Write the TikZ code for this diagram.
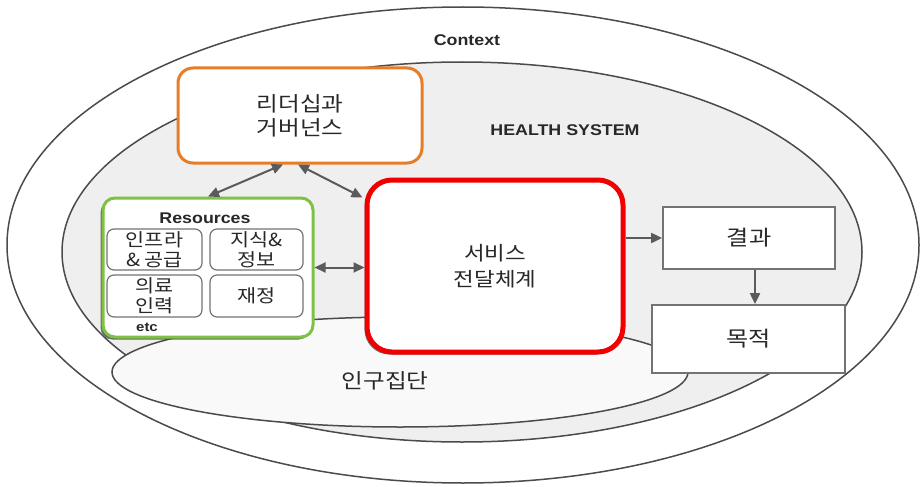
\documentclass[tikz,border=0pt]{standalone}
\usepackage{fontspec}
\setmainfont[FakeStretch=1.15]{Noto Sans CJK KR}
\newfontfamily\labelfont[FakeStretch=1.15]{Liberation Sans}
\usepackage{tikz}
\usetikzlibrary{arrows.meta}
\usetikzlibrary{shadows,calc}

\definecolor{leadorange}{RGB}{232,125,40}
\definecolor{resgreen}{RGB}{125,194,67}
\definecolor{svcred}{RGB}{240,0,0}
\definecolor{healthfill}{RGB}{239,239,239}
\definecolor{popfill}{RGB}{249,249,249}
\definecolor{ringgray}{RGB}{75,75,75}
\definecolor{boxgray}{RGB}{115,115,115}
\definecolor{arrowgray}{RGB}{90,90,90}
\definecolor{labelgray}{RGB}{40,40,40}

\begin{document}
\begin{tikzpicture}[x=1pt,y=-1pt,
	ring/.style={draw=ringgray,line width=1.5pt},
	kor/.style={font=\fontsize{20.5}{24}\selectfont,text=labelgray,align=center},
	smallkor/.style={font=\fontsize{18}{20}\selectfont,text=labelgray,align=center},
	lbl/.style={font=\labelfont\bfseries\fontsize{15.5}{18}\selectfont,text=labelgray},
	roundbox/.style={draw=#1,fill=white,inner sep=0pt},
	itembox/.style={draw=boxgray,fill=white,line width=1.2pt,rounded corners=7pt,
		minimum height=41pt,inner sep=0pt,smallkor},
	plainbox/.style={draw=boxgray,fill=white,line width=1.8pt,inner sep=0pt,kor},
	shade/.style={drop shadow={shadow xshift=-2.5pt,shadow yshift=-2.5pt,opacity=.8,fill=black!70}},
	flow/.style={draw=arrowgray,line width=2pt,-{Triangle[length=11pt,width=10pt]}},
	both/.style={flow,{Triangle[length=11pt,width=10pt]}-{Triangle[length=11pt,width=10pt]}}
	]
	\useasboundingbox (0,0) rectangle (921,487);
	
	% rings
	\draw[ring,fill=white] (463,245) ellipse [x radius=456, y radius=238];
	\draw[ring,fill=healthfill] (462,252) ellipse [x radius=400, y radius=190];
	\draw[ring,fill=popfill] (400,372) ellipse [x radius=288, y radius=55];
	
	\node[lbl] (context) at (467,40) {Context};
	\node[lbl] (health) at (565,130) {HEALTH SYSTEM};
	\node[kor] (pop) at (385,381) {인구집단};
	
	\node[roundbox=leadorange,line width=3pt,rounded corners=15pt,
		minimum width=244pt,minimum height=95pt,kor] (lead) at (300,115.5) {리더십과\\거버넌스};
	\node[roundbox=resgreen,line width=3pt,rounded corners=12pt,shade,
		minimum width=210pt,minimum height=139pt] (res) at (208,267.5) {};
	\node[roundbox=svcred,line width=5pt,rounded corners=25pt,shade,
		minimum width=256pt,minimum height=172pt,
		font=\fontsize{19.5}{26}\selectfont,text=labelgray,align=center] (svc) at (495,266) {서비스\\전달체계};
	
	\node[lbl] (restitle) at (205,218) {Resources};
	\node[itembox,minimum width=95pt] (infra) at (154.5,249.5) {인프라\\\& 공급};
	\node[itembox,minimum width=93pt] (know) at (256.5,249.5) {지식\&\\정보};
	\node[itembox,minimum width=95pt,minimum height=42pt] (staff) at (154.5,296) {의료\\인력};
	\node[itembox,minimum width=93pt,minimum height=42pt] (fin) at (256.5,296) {재정};
	\node[lbl,font=\labelfont\bfseries\fontsize{13}{15}\selectfont] (etc) at (147,327) {etc};
	
	\node[plainbox,minimum width=172pt,minimum height=62pt,font=\fontsize{21}{24}\selectfont] (outc) at (749,238) {결과};
	\node[plainbox,minimum width=193pt,minimum height=68pt,font=\fontsize{21}{24}\selectfont] (goal) at (748.5,339) {목적};
	
	\draw[both] (res.north) -- ([xshift=-17pt]lead.south);
	\draw[both] ([xshift=-2pt]lead.south) -- ([yshift=-20pt,xshift=-2pt]svc.north west);
	\draw[both] (res.east) -- (res.east -| svc.west);
	\draw[flow] (svc.east |- outc.west) -- (outc.west);
	\draw[flow] ([xshift=6pt]outc.south) -- ([xshift=6pt]outc.south |- goal.north);
\end{tikzpicture}
\end{document}
